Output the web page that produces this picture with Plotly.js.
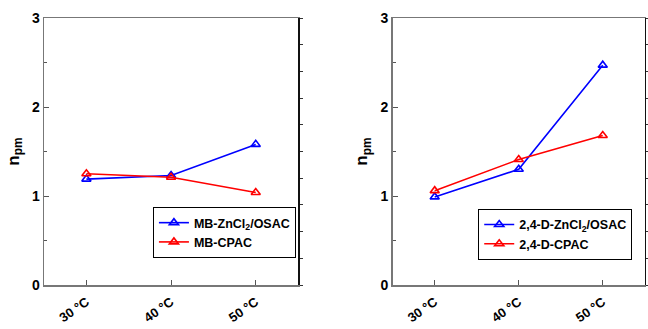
<!DOCTYPE html>
<html>
<head>
<meta charset="utf-8">
<script src="https://cdn.plot.ly/plotly-3.0.1.min.js"></script>
<style>html,body{margin:0;padding:0;background:#fff;}#chart{width:648px;height:329px;}</style>
</head>
<body>
<div id="chart"></div>
<script>
const temps = ["30 °C", "40 °C", "50 °C"];
const mbZn = [1.19, 1.23, 1.58];
const mbCp = [1.25, 1.21, 1.04];
const dZn = [0.99, 1.30, 2.47];
const dCp = [1.06, 1.41, 1.68];
const names = ["MB-ZnCl<sub>2</sub>/OSAC", "MB-CPAC", "2,4-D-ZnCl<sub>2</sub>/OSAC", "2,4-D-CPAC"];

const FONT = "Liberation Sans, Arial, sans-serif";
function tr(y, name, color, xa, ya, lg) {
  return {x: temps, y: y, name: name, type: "scatter", mode: "lines+markers",
    xaxis: xa, yaxis: ya, legend: lg,
    line: {color: color, width: 1.6},
    marker: {symbol: "triangle-up-open", size: 8, color: color, line: {width: 1.6, color: color}}};
}
const data = [
  tr(mbZn, names[0], "#0000ff", "x", "y", "legend"),
  tr(mbCp, names[1], "#ff0000", "x", "y", "legend"),
  tr(dZn, names[2], "#0000ff", "x2", "y2", "legend2"),
  tr(dCp, names[3], "#ff0000", "x2", "y2", "legend2"),
  {x: [], y: [], xaxis: "x", yaxis: "y3", showlegend: false},
  {x: [], y: [], xaxis: "x2", yaxis: "y4", showlegend: false}
];
const tickFont = {family: FONT, size: 14, color: "#000", weight: "bold"};
function xax(dom, anchor) {
  return {domain: dom, anchor: anchor, type: "category", range: [-0.5, 2.5],
    showline: true, linecolor: "#777", linewidth: 1.5, mirror: true,
    ticks: "inside", ticklen: 5, tickcolor: "#555", tickangle: -35,
    ticklabelstandoff: 3,
    tickfont: {family: FONT, size: 13, color: "#000", weight: "bold"},
    showgrid: false, zeroline: false, fixedrange: true};
}
function yax(anchor) {
  return {anchor: anchor, range: [0, 3], dtick: 1, tick0: 0,
    showline: true, linecolor: "#777", linewidth: 1.5,
    ticks: "inside", ticklen: 5, tickcolor: "#555",
    minor: {dtick: 0.5, ticks: "inside", ticklen: 3, tickcolor: "#555"},
    tickfont: tickFont, showgrid: false, zeroline: false,
    title: {text: "n<sub>pm</sub>", font: {family: FONT, size: 17, color: "#000", weight: "bold"}, standoff: 8}};
}
function ryax(over) {
  return {overlaying: over, side: "right", anchor: over === "y" ? "x" : "x2",
    range: [0, 3], tick0: 0, dtick: 0.3, showticklabels: false,
    showline: true, linecolor: "#111", linewidth: 1.5,
    ticks: "outside", ticklen: 3, tickcolor: "#333", showgrid: false, zeroline: false};
}
const legFont = {family: FONT, size: 12.5, color: "#000", weight: "bold"};
const layout = {
  width: 648, height: 329,
  margin: {l: 0, r: 0, t: 18, b: 44},
  paper_bgcolor: "#fff", plot_bgcolor: "#fff",
  font: {family: FONT, color: "#000"},
  xaxis: xax([0.068, 0.46], "y"),
  yaxis: yax("x"),
  xaxis2: xax([0.606, 0.995], "y2"),
  yaxis2: yax("x2"),
  yaxis3: ryax("y"),
  yaxis4: ryax("y2"),
  legend: {x: 0.236, y: 0.292, xanchor: "left", yanchor: "top",
    bgcolor: "#fff", bordercolor: "#000", borderwidth: 1,
    font: legFont, tracegroupgap: 0, itemwidth: 30},
  legend2: {x: 0.738, y: 0.285, xanchor: "left", yanchor: "top",
    bgcolor: "#fff", bordercolor: "#000", borderwidth: 1,
    font: legFont, tracegroupgap: 0, itemwidth: 30},
  showlegend: true
};
Plotly.newPlot("chart", data, layout, {staticPlot: true, displayModeBar: false});
</script>
</body>
</html>
